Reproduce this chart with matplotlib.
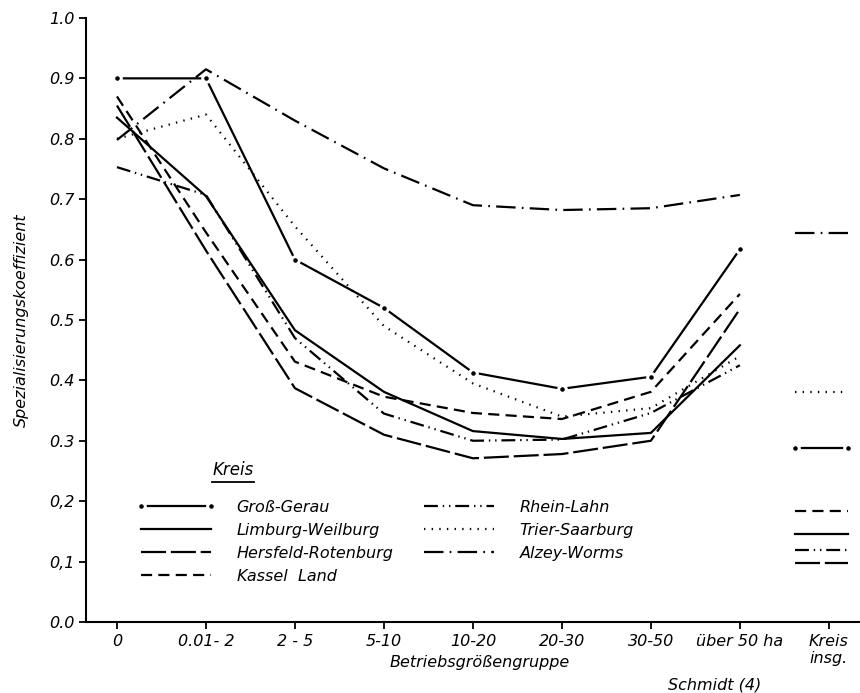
import numpy as np
import matplotlib
matplotlib.use("Agg")
import matplotlib.pyplot as plt
from matplotlib.lines import Line2D

plt.rcParams['font.family'] = ['DejaVu Sans']
plt.rcParams['font.style'] = 'italic'
plt.rcParams['lines.scale_dashes'] = False

# Betriebsgroessengruppen (x categories)
groups = ['0', '0.01- 2', '2 - 5', '5-10', '10-20', '20-30', '30-50', 'über 50 ha', 'Kreis\ninsg.']
yticks = [0.0, 0.1, 0.2, 0.3, 0.4, 0.5, 0.6, 0.7, 0.8, 0.9, 1.0]
ytick_labels = ['0.0', '0,1', '0,2', '0.3', '0.4', '0.5', '0.6', '0.7', '0.8', '0.9', '1.0']

kreise = ['Groß-Gerau', 'Limburg-Weilburg', 'Hersfeld-Rotenburg', 'Kassel  Land',
          'Rhein-Lahn', 'Trier-Saarburg', 'Alzey-Worms']

# Spezialisierungskoeffizient per Kreis and group
gross_gerau = [0.90, 0.90, 0.60, 0.52, 0.413, 0.386, 0.406, 0.617]
limburg = [0.835, 0.705, 0.483, 0.381, 0.316, 0.303, 0.313, 0.458]
hersfeld = [0.855, 0.615, 0.387, 0.31, 0.271, 0.278, 0.30, 0.518]
kassel = [0.87, 0.645, 0.431, 0.373, 0.346, 0.336, 0.381, 0.543]
rhein_lahn = [0.753, 0.707, 0.47, 0.345, 0.30, 0.302, 0.346, 0.425]
trier = [0.80, 0.84, 0.655, 0.49, 0.395, 0.34, 0.354, 0.44]
alzey = [0.798, 0.915, 0.83, 0.751, 0.69, 0.682, 0.685, 0.707]
# Kreis insgesamt (same order as kreise)
kreis_insg = [0.288, 0.146, 0.098, 0.184, 0.119, 0.381, 0.644]

series = [gross_gerau, limburg, hersfeld, kassel, rhein_lahn, trier, alzey]

# line styles: (linestyle, marker)
styles = [
    ('-', 'o'),
    ('-', None),
    ((0, (18, 3.5)), None),
    ((0, (8, 4.5)), None),
    ((0, (10, 3.5, 1, 3.5, 1, 3.5)), None),
    ((0, (1, 4.5)), None),
    ((0, (14, 4.5, 1.2, 4.5)), None),
]

fig = plt.figure(figsize=(8.6, 6.93), dpi=100)
ax = fig.add_axes([0.1, 0.1025, 0.9, 0.8716])

x = np.arange(len(groups) - 1)
handles = []
for vals, (ls, mk) in zip(series, styles):
    kw = dict(color='black', lw=1.6, linestyle=ls)
    if mk:
        kw.update(marker='o', markersize=5.5, markerfacecolor='black',
                  markeredgecolor='white', markeredgewidth=2.2)
    ln, = ax.plot(x, vals, **kw)
    handles.append(ln)

# short segments for "Kreis insg."
for v, (ls, mk) in zip(kreis_insg, styles):
    kw = dict(color='black', lw=1.6, linestyle=ls)
    if mk:
        kw.update(marker='o', markersize=5.5, markerfacecolor='black',
                  markeredgecolor='white', markeredgewidth=2.2)
    ax.plot([7.62, 8.21], [v, v], **kw)

ax.set_xlim(-0.348, 8.35)
ax.set_ylim(0, 1.0)
ax.spines['top'].set_visible(False)
ax.spines['right'].set_visible(False)
ax.spines['left'].set_linewidth(1.5)
ax.spines['bottom'].set_linewidth(1.5)
ax.set_xticks(np.arange(len(groups)))
ax.set_xticklabels(groups, fontsize=11.5, linespacing=1.15)
ax.set_yticks(yticks)
ax.set_yticklabels(ytick_labels, fontsize=11.5)
ax.tick_params(length=5, width=1.3, color='black')

ax.set_ylabel('Spezialisierungskoeffizient', fontsize=11.5, labelpad=14)
fig.text(480 / 860, 1 - 662 / 693, 'Betriebsgrößengruppe', ha='center', va='center', fontsize=11.5)
fig.text(715 / 860, 1 - 685 / 693, 'Schmidt (4)', ha='center', va='center', fontsize=11.5)

leg = ax.legend(handles, kreise, ncol=2, frameon=False, fontsize=11.5,
                loc='upper left', bbox_to_anchor=(128 / 860, 1 - 492 / 693),
                bbox_transform=fig.transFigure, handlelength=5.0, numpoints=2,
                labelspacing=0.5, columnspacing=1.6, handletextpad=1.3, borderpad=0)

fig.text(233 / 860, 1 - 470 / 693, 'Kreis', ha='center', va='center', fontsize=12)
fig.add_artist(Line2D([212 / 860, 254 / 860], [1 - 482 / 693, 1 - 482 / 693],
                      color='black', lw=1.3, transform=fig.transFigure))

fig.savefig('out.png', dpi=100, facecolor='white')
